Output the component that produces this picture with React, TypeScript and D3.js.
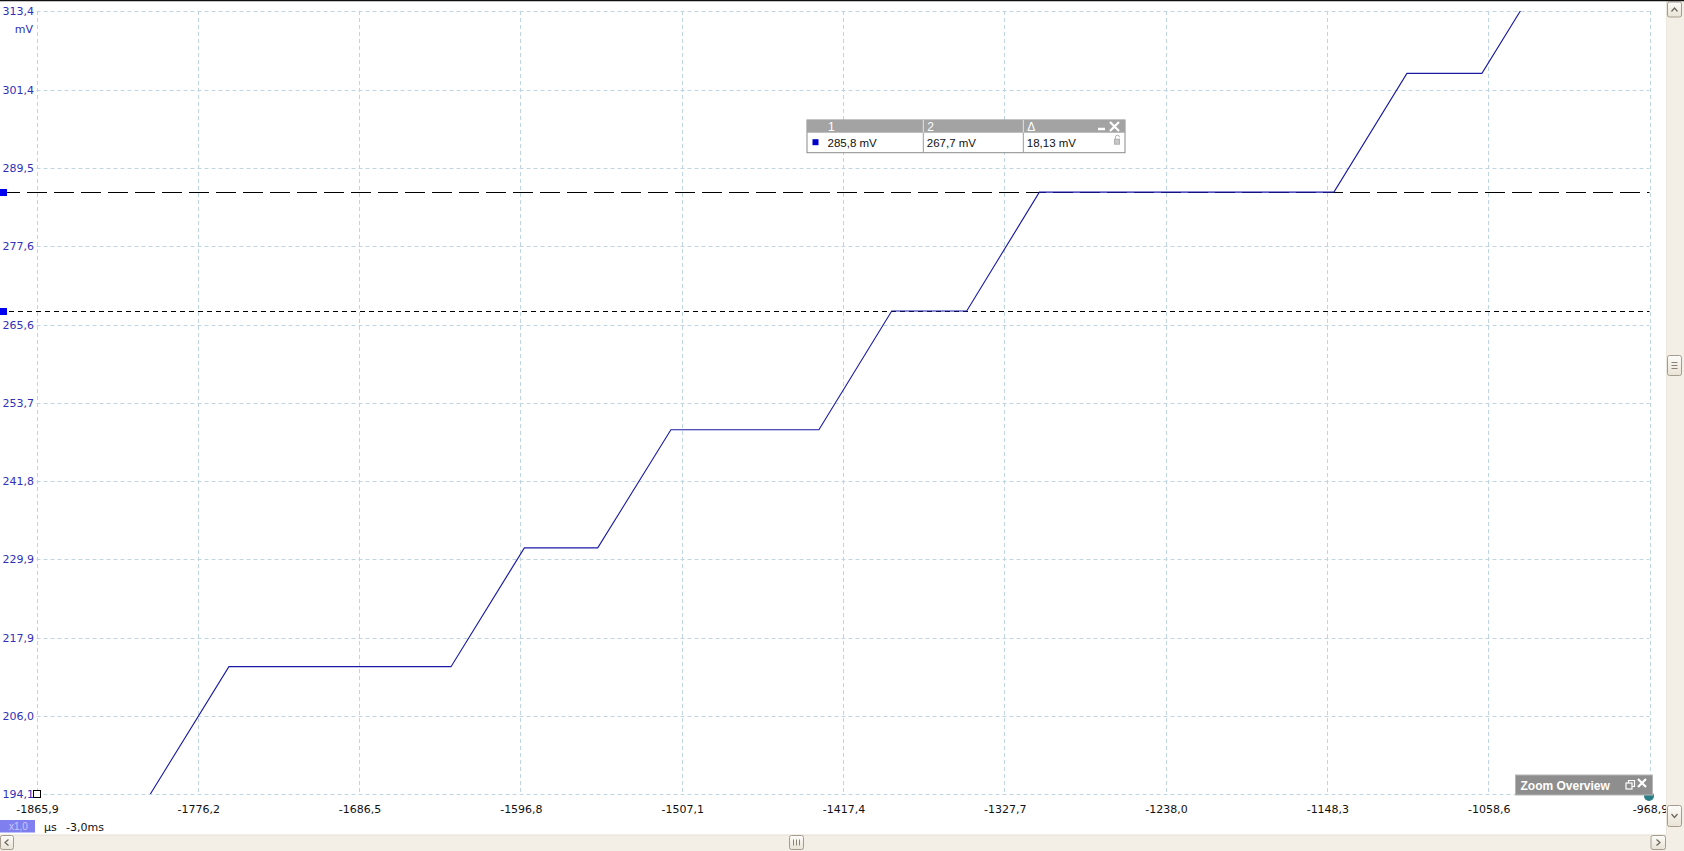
import React from "react";
import * as d3 from "d3";

// ---- data ----
const timeUs = [-1810, -1758.9, -1635.4, -1594.6, -1553.8, -1513.1, -1430.8, -1390.3, -1348.6, -1308.2, -1144.4, -1103.8, -1062.1, -1021.4];
const voltMv = [190.8, 213.5, 213.5, 231.6, 231.6, 249.6, 249.6, 267.7, 267.7, 285.8, 285.8, 303.9, 303.9, 322.0];
const xTicks = [-1865.9, -1776.2, -1686.5, -1596.8, -1507.1, -1417.4, -1327.7, -1238.0, -1148.3, -1058.6, -968.9];
const yTicks = [194.1, 206.0, 217.9, 229.9, 241.8, 253.7, 265.6, 277.6, 289.5, 301.4, 313.4];
const cursorValues = [285.8, 267.7];
const cursorLabels = ["285,8 mV", "267,7 mV", "18,13 mV"];
const tableHeaders = ["1", "2", "Δ"];

const W = 1684;
const H = 851;
const L = 36.5, R = 1649.5, T = 11, B = 794;

const fmt = (v: number) => v.toFixed(1).replace(".", ",");
const snap = (v: number) => Math.round(v) + 0.5;

export default function App() {
  const x = d3.scaleLinear().domain([xTicks[0], xTicks[xTicks.length - 1]]).range([L, R]);
  const y = d3.scaleLinear().domain([yTicks[0], yTicks[yTicks.length - 1]]).range([B, T]);
  const pts: [number, number][] = timeUs.map((t, i) => [t, voltMv[i]]);
  const line = d3.line<[number, number]>().x(d => x(d[0])).y(d => y(d[1]));
  const gridColor = "#bfd6e2";
  const font = "'DejaVu Sans', sans-serif";
  const tFont = "'Liberation Sans', Arial, sans-serif";
  const axisBlue = "#3030b8";

  const tblX = 807, tblY = 120, tblW = 318, hdrH = 12.7, rowH = 20;
  const colX = [807, 923.3, 1023.3];

  return (
    <svg width={W} height={H} style={{ position: "fixed", left: 0, top: 0, background: "#fff" }}>
      <defs>
        <clipPath id="plot">
          <rect x={L} y={T} width={R - L} height={B - T} />
        </clipPath>
        <linearGradient id="btn" x1="0" y1="0" x2="0" y2="1">
          <stop offset="0" stopColor="#fdfcf9" />
          <stop offset="1" stopColor="#e9e3d6" />
        </linearGradient>
      </defs>
      <rect x={0} y={0} width={W} height={H} fill="#fff" />
      {/* grid */}
      {xTicks.map((t, i) => (
        <line key={"gx" + i} x1={snap(x(t))} x2={snap(x(t))} y1={T} y2={B} stroke={gridColor} strokeDasharray="4,3" />
      ))}
      {yTicks.map((v, i) => (
        <line key={"gy" + i} x1={L} x2={R} y1={snap(y(v))} y2={snap(y(v))} stroke={gridColor} strokeDasharray="4,3" />
      ))}
      {/* y labels */}
      {yTicks.map((v, i) => (
        <text key={"yl" + i} x={34} y={y(v) + 4} textAnchor="end" fontFamily={font} fontSize={11} fill={axisBlue}>
          {fmt(v)}
        </text>
      ))}
      <text x={33} y={33} textAnchor="end" fontFamily={font} fontSize={11} fill={axisBlue}>mV</text>
      {/* x labels */}
      {xTicks.map((t, i) => (
        <text key={"xl" + i} x={x(t) + 1} y={813} textAnchor="middle" fontFamily={font} fontSize={11} fill="#111">
          {fmt(t)}
        </text>
      ))}
      {/* cursors */}
      <line x1={0} x2={R} y1={snap(y(cursorValues[0]))} y2={snap(y(cursorValues[0]))} stroke="#000" strokeWidth={1} strokeDasharray="20,7" />
      <line x1={0} x2={R} y1={snap(y(cursorValues[1]))} y2={snap(y(cursorValues[1]))} stroke="#000" strokeWidth={1} strokeDasharray="5,4" />
      {cursorValues.map((v, i) => (
        <rect key={"cm" + i} x={0} y={Math.round(y(v)) - 3} width={7} height={7} fill="#0000f0" />
      ))}
      {/* signal */}
      <path d={line(pts) || ""} fill="none" stroke="#1a1aa6" strokeWidth={1.1} clipPath="url(#plot)" />
      {/* origin marker */}
      <rect x={33.5} y={790.5} width={7} height={7} fill="#fff" stroke="#000" strokeWidth={1} />
      {/* measurement table */}
      <rect x={tblX} y={tblY} width={tblW} height={hdrH + rowH} fill="#fff" stroke="#8a8a8a" />
      <rect x={tblX} y={tblY} width={tblW} height={hdrH} fill="#a3a3a3" />
      {colX.slice(1).map((cx, i) => (
        <line key={"cs" + i} x1={cx} x2={cx} y1={tblY} y2={tblY + hdrH + rowH} stroke="#9a9a9a" />
      ))}
      {colX.slice(1).map((cx, i) => (
        <line key={"ch" + i} x1={cx} x2={cx} y1={tblY} y2={tblY + hdrH} stroke="#e8e8e8" />
      ))}
      {tableHeaders.map((h, i) => (
        <text key={"th" + i} x={colX[i] + (i === 0 ? 21 : 4)} y={tblY + 11} fontFamily={tFont} fontSize={12} fill="#fff">{h}</text>
      ))}
      <line x1={1098} x2={1105} y1={tblY + 9} y2={tblY + 9} stroke="#fff" strokeWidth={2.5} />
      <path d={`M1110,${tblY + 2} L1119,${tblY + 11} M1119,${tblY + 2} L1110,${tblY + 11}`} stroke="#fff" strokeWidth={2.2} />
      <rect x={812.5} y={tblY + hdrH + 6.5} width={6} height={6} fill="#0000c8" />
      {cursorLabels.map((s, i) => (
        <text key={"tv" + i} x={colX[i] + (i === 0 ? 20.5 : 3.5)} y={tblY + hdrH + 14} fontFamily={tFont} fontSize={11.5} fill="#111">{s}</text>
      ))}
      <g fill="none" stroke="#b0b0b0" strokeWidth={1}>
        <rect x={1114.5} y={tblY + hdrH + 6.5} width={5} height={5} fill="#c8c8c8" />
        <path d={`M1115.5,${tblY + hdrH + 6.5} v-2 a2,2 0 0 1 4,0`} />
      </g>
      {/* zoom overview */}
      <circle cx={1649} cy={796} r={5} fill="#2a7f86" />
      <rect x={1515.5} y={775} width={137} height={20} fill="#8e8e8e" stroke="#b5b5b5" />
      <text x={1520.5} y={789.5} fontFamily={tFont} fontSize={12} fontWeight="bold" fill="#fff">Zoom Overview</text>
      <g stroke="#fff" strokeWidth={1.2} fill="none">
        <rect x={1626} y={783} width={6} height={6} />
        <path d="M1628.5,783 v-2.5 h6 v6 h-2.5" />
      </g>
      <path d="M1638,779 L1646,787 M1646,779 L1638,787" stroke="#fff" strokeWidth={2.2} />
      {/* bottom status */}
      <rect x={0} y={820} width={35} height={12.5} fill="#7f7ff0" />
      <text x={9} y={830} fontFamily={tFont} fontSize={10} fill="#c8c8ff">x1,0</text>
      <text x={44} y={831} fontFamily={font} fontSize={11} fill="#111">µs</text>
      <text x={66} y={831} fontFamily={font} fontSize={11} fill="#111">-3,0ms</text>
      {/* right scrollbar */}
      <rect x={1666.5} y={0} width={17.5} height={835} fill="#f3efe6" />
      <line x1={1666.5} x2={1666.5} y1={0} y2={835} stroke="#ece7dc" />
      <rect x={1667.5} y={2} width={14} height={15} rx={2} fill="url(#btn)" stroke="#a49c8e" />
      <path d="M1671.5,11.5 L1674.5,8 L1677.5,11.5" stroke="#6b6458" strokeWidth={1.2} fill="none" />
      <rect x={1667.5} y={355.5} width={14} height={20} rx={2} fill="url(#btn)" stroke="#a49c8e" />
      <path d="M1671.5,362.5 h6 M1671.5,365.5 h6 M1671.5,368.5 h6" stroke="#8a8275" />
      <rect x={1667.5} y={805.5} width={14} height={21} rx={2} fill="url(#btn)" stroke="#a49c8e" />
      <path d="M1671.5,814 L1674.5,817.5 L1677.5,814" stroke="#6b6458" strokeWidth={1.2} fill="none" />
      {/* bottom scrollbar */}
      <rect x={0} y={835} width={1684} height={16} fill="#f3efe6" />
      <line x1={0} x2={1666} y1={835} y2={835} stroke="#e5dfd2" />
      <rect x={0.5} y={835.5} width={13} height={14} rx={2} fill="url(#btn)" stroke="#a49c8e" />
      <path d="M8.5,839.5 L5,842.5 L8.5,845.5" stroke="#6b6458" strokeWidth={1.2} fill="none" />
      <rect x={789.5} y={835.5} width={14} height={14} rx={2} fill="url(#btn)" stroke="#a49c8e" />
      <path d="M793.5,839.5 v6 M796.5,839.5 v6 M799.5,839.5 v6" stroke="#8a8275" />
      <rect x={1651} y={835.5} width={14.5} height={14} rx={2} fill="url(#btn)" stroke="#a49c8e" />
      <path d="M1656.5,839.5 L1660,842.5 L1656.5,845.5" stroke="#6b6458" strokeWidth={1.2} fill="none" />
      {/* top edge */}
      <line x1={0} x2={W} y1={0.5} y2={0.5} stroke="#111" strokeWidth={1.5} />
    </svg>
  );
}
